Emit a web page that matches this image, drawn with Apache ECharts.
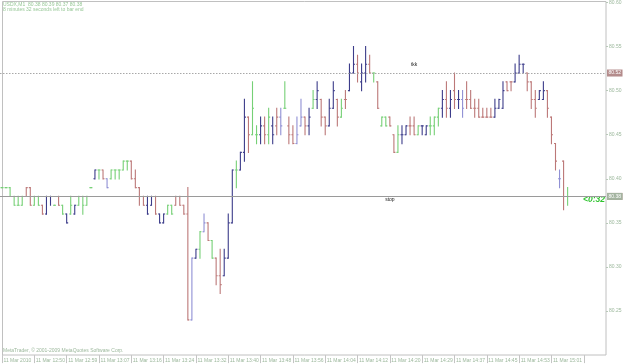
<!DOCTYPE html>
<html><head><meta charset="utf-8">
<script src="https://cdn.jsdelivr.net/npm/echarts@6/dist/echarts.min.js"></script>
<style>html,body{margin:0;padding:0;background:#fff}#c{width:625px;height:364px}</style>
</head><body><div id="c"></div>
<script>
// x-axis tick labels, one every 8 bars
const tickLabels = ["11 Mar 2010","11 Mar 12:50","11 Mar 12:59","11 Mar 13:07","11 Mar 13:16","11 Mar 13:24","11 Mar 13:32","11 Mar 13:40","11 Mar 13:48","11 Mar 13:56","11 Mar 14:04","11 Mar 14:12","11 Mar 14:20","11 Mar 14:29","11 Mar 14:37","11 Mar 14:45","11 Mar 14:53","11 Mar 15:01"];
const priceTicks = [80.25, 80.30, 80.35, 80.40, 80.45, 80.50, 80.55, 80.60];

const opens = [
80.39,80.39,80.39,80.38,80.37,80.37,80.38,80.39,80.37,80.38,
80.37,80.36,80.38,80.37,80.38,80.37,80.36,80.36,80.36,80.37,
80.38,80.37,80.39,80.40,80.41,80.41,80.40,80.40,80.41,80.41,
80.41,80.42,80.42,80.40,80.39,80.38,80.37,80.37,80.38,80.36,
80.35,80.36,80.37,80.37,80.38,80.37,80.36,80.24,80.31,80.32,
80.34,80.35,80.33,80.31,80.29,80.29,80.31,80.35,80.41,80.41,
80.43,80.47,80.45,80.45,80.45,80.46,80.45,80.46,80.46,80.47,
80.48,80.46,80.45,80.44,80.46,80.47,80.46,80.48,80.49,80.49,
80.47,80.46,80.48,80.49,80.47,80.49,80.50,80.52,80.53,80.51,
80.52,80.53,80.52,80.51,80.46,80.47,80.47,80.45,80.43,80.45,
80.45,80.46,80.46,80.45,80.46,80.45,80.46,80.46,80.47,80.48,
80.49,80.48,80.50,80.49,80.49,80.49,80.49,80.48,80.48,80.47,
80.47,80.47,80.47,80.48,80.48,80.51,80.51,80.51,80.52,80.53,
80.52,80.51,80.49,80.49,80.49,80.50,80.47,80.44,80.40,80.42,80.38];
const highs = [
80.39,80.39,80.39,80.38,80.38,80.38,80.39,80.39,80.38,80.38,
80.37,80.38,80.38,80.37,80.38,80.37,80.36,80.38,80.37,80.38,
80.38,80.38,80.39,80.41,80.41,80.41,80.40,80.41,80.41,80.41,
80.42,80.42,80.42,80.41,80.39,80.38,80.38,80.38,80.38,80.36,
80.36,80.37,80.37,80.38,80.38,80.37,80.39,80.31,80.32,80.34,
80.36,80.35,80.33,80.31,80.32,80.32,80.36,80.41,80.42,80.43,
80.49,80.47,80.51,80.46,80.47,80.47,80.48,80.47,80.48,80.48,
80.51,80.47,80.46,80.47,80.49,80.47,80.48,80.50,80.51,80.49,
80.47,80.49,80.51,80.49,80.49,80.50,80.53,80.55,80.54,80.53,
80.55,80.54,80.52,80.51,80.47,80.47,80.47,80.45,80.46,80.46,
80.46,80.47,80.47,80.46,80.46,80.46,80.47,80.47,80.48,80.50,
80.51,80.50,80.52,80.50,80.50,80.51,80.50,80.49,80.49,80.48,
80.48,80.48,80.49,80.49,80.51,80.51,80.51,80.53,80.54,80.53,
80.52,80.51,80.50,80.50,80.51,80.50,80.47,80.44,80.41,80.42,80.39];
const lows = [
80.39,80.39,80.38,80.37,80.37,80.37,80.38,80.37,80.37,80.37,
80.36,80.36,80.37,80.37,80.37,80.36,80.35,80.36,80.36,80.37,
80.36,80.37,80.39,80.40,80.40,80.40,80.39,80.40,80.40,80.40,
80.41,80.41,80.40,80.39,80.37,80.37,80.36,80.37,80.36,80.35,
80.35,80.36,80.36,80.37,80.37,80.36,80.24,80.24,80.31,80.31,
80.34,80.33,80.31,80.28,80.27,80.29,80.31,80.35,80.39,80.41,
80.42,80.43,80.45,80.44,80.44,80.44,80.44,80.44,80.45,80.45,
80.48,80.44,80.44,80.44,80.46,80.45,80.45,80.48,80.48,80.46,
80.45,80.46,80.48,80.46,80.47,80.48,80.50,80.52,80.51,80.50,
80.51,80.52,80.51,80.48,80.46,80.46,80.46,80.43,80.43,80.44,
80.45,80.45,80.45,80.45,80.45,80.45,80.45,80.45,80.46,80.47,
80.47,80.47,80.48,80.48,80.47,80.48,80.48,80.47,80.47,80.47,
80.47,80.47,80.47,80.48,80.48,80.50,80.50,80.51,80.52,80.52,
80.50,80.48,80.47,80.49,80.49,80.47,80.44,80.41,80.39,80.365,80.37];
const closes = [
80.39,80.39,80.38,80.37,80.37,80.38,80.39,80.37,80.38,80.37,
80.36,80.38,80.38,80.37,80.37,80.36,80.35,80.37,80.37,80.38,
80.37,80.38,80.39,80.41,80.41,80.40,80.39,80.41,80.41,80.41,
80.42,80.42,80.40,80.39,80.38,80.37,80.36,80.38,80.36,80.35,
80.36,80.37,80.36,80.38,80.37,80.36,80.24,80.31,80.32,80.34,
80.35,80.33,80.31,80.29,80.28,80.31,80.35,80.41,80.41,80.43,
80.47,80.45,80.48,80.45,80.46,80.45,80.47,80.45,80.47,80.46,
80.48,80.45,80.44,80.45,80.47,80.46,80.47,80.49,80.50,80.47,
80.46,80.48,80.50,80.47,80.48,80.49,80.52,80.53,80.52,80.52,
80.53,80.52,80.52,80.48,80.47,80.46,80.46,80.43,80.45,80.45,
80.46,80.46,80.45,80.46,80.46,80.46,80.46,80.47,80.48,80.49,
80.48,80.49,80.49,80.49,80.48,80.49,80.48,80.48,80.47,80.47,
80.47,80.47,80.48,80.49,80.50,80.50,80.51,80.52,80.53,80.53,
80.51,80.49,80.48,80.50,80.50,80.48,80.45,80.42,80.40,80.38,80.38];
// bar colour classes: G green, R red, N navy, L lavender
const barColors = "GGGGGGRRGG"+"RNNGRGNGNG"+"GGGNGRLGGG"+"GGRRRRNNRN"+"NGGRRRRLNG"+"LRGRRNNNGN"+"NRGGNRGNRL"+"GRRLLRNGNR"+"RNNRGRNNRN"+"NRGRGGRRGN"+"NRRGNNGGGN"+"RNRNLRRRRR"+"RRNNNRRNNN"+"RRRNNRRRLRG";
const levelLines = [
  {value: 80.5228, text: "80.52", kind: "dot"},
  {value: 80.3847, text: "80.38", kind: "dot"},
  {value: 80.3800, text: "80.38", kind: "bid"}
];
const notes = [
  {slot: 101.5, price: 80.530, text: "tkk"},
  {slot: 96.3, price: 80.3767, text: "stop"}
];
const titleLine1 = "USDX,M1  80.38 80.39 80.37 80.38";
const titleLine2 = "8 minutes 32 seconds left to bar end";
const copyright = "MetaTrader, \u00a9 2001-2009 MetaQuotes Software Corp.";
const timer = "<0:32";

const SLOTS = 150;
const palette = {G: '#76d076', R: '#bc7878', N: '#3c3c8a', L: '#9090d4'};
const categories = [];
for (let i = 0; i < SLOTS; i++) categories.push(i);
const data = opens.map((o, i) => [i, o, highs[i], lows[i], closes[i]]);

const FONT = 'Liberation Sans';
const chart = echarts.init(document.getElementById('c'), null, {renderer: 'canvas'});
chart.setOption({
  animation: false,
  backgroundColor: '#ffffff',
  grid: {left: 0, right: 19, top: 1.8, bottom: 8.9, show: false},
  xAxis: {
    type: 'category', data: categories, boundaryGap: true,
    axisLine: {show: false},
    axisTick: {show: true, interval: 7, alignWithLabel: true, length: 8, lineStyle: {color: '#c4c4c4', width: 1}},
    axisLabel: {interval: 7, align: 'left', margin: 3.5, fontSize: 5, fontFamily: FONT, color: '#9cb89c', padding: [0,0,0,1.5],
      formatter: (v, idx) => tickLabels[idx / 8] || ''},
    splitLine: {show: false}
  },
  yAxis: {
    type: 'value', position: 'right', min: 80.20, max: 80.60, interval: 0.05,
    axisLine: {show: false},
    axisTick: {show: true, length: 2, lineStyle: {color: '#b8c8b8'}},
    axisLabel: {margin: 3, fontSize: 5, fontFamily: FONT, color: '#9cb89c', showMinLabel: false,
      formatter: v => priceTicks.some(t => Math.abs(t - v) < 1e-6) ? v.toFixed(2) : ''},
    splitLine: {show: false}
  },
  graphic: [
    {type: 'rect', z: 0, shape: {x: 2.5, y: 1.5, width: 603.5, height: 353.5}, style: {fill: 'none', stroke: '#c0c0c0', lineWidth: 1}},
    {type: 'text', left: 3, top: 2, style: {text: titleLine1, fontSize: 5, fontFamily: FONT, fill: '#98c898'}},
    {type: 'text', left: 3, top: 7, style: {text: titleLine2, fontSize: 5, fontFamily: FONT, fill: '#98c898'}},
    {type: 'text', left: 3, top: 348.5, style: {text: copyright, fontSize: 5, fontFamily: FONT, fill: '#9cb89c'}},
    {type: 'text', left: 583, top: 195, style: {text: timer, fontSize: 8.5, fontWeight: 'bold', fontStyle: 'italic', fontFamily: FONT, fill: '#2fc42f'}}
  ],
  series: [{
    type: 'custom',
    data: data,
    encode: {x: 0, y: [1, 2, 3, 4]},
    clip: true,
    renderItem: function (params, api) {
      const i = api.value(0);
      const o = api.coord([i, api.value(1)]);
      const h = api.coord([i, api.value(2)]);
      const l = api.coord([i, api.value(3)]);
      const c = api.coord([i, api.value(4)]);
      const x = h[0];
      const t = 1.5;
      const st = {stroke: palette[barColors[params.dataIndex]], lineWidth: 1.1};
      return {type: 'group', children: [
        {type: 'line', shape: {x1: x, y1: h[1] - 0.6, x2: x, y2: l[1] + 0.6}, style: st},
        {type: 'line', shape: {x1: x - t, y1: o[1], x2: x, y2: o[1]}, style: st},
        {type: 'line', shape: {x1: x, y1: c[1], x2: x + t, y2: c[1]}, style: st}
      ]};
    },
    markLine: {
      silent: true, symbol: ['none', 'none'], animation: false,
      data: levelLines.map(d => ({
        yAxis: d.value,
        lineStyle: d.kind === 'dot' ? {color: '#a8a8a8', type: [1.5, 1.5], width: 1} : {color: '#9a9a9a', type: 'solid', width: 1},
        label: {show: true, position: 'end', distance: 1, formatter: d.text, fontSize: 5, fontFamily: FONT,
          color: '#ffffff', backgroundColor: d.kind === 'dot' ? '#b48c8c' : '#a4b4a0', padding: [1, 1.5]}
      }))
    },
    markPoint: {
      silent: true, symbol: 'circle', symbolSize: 0, animation: false,
      data: notes.map(n => ({coord: [n.slot, n.price], label: {show: true, position: 'inside', formatter: n.text, fontSize: 5, fontFamily: FONT, color: '#222'}}))
    }
  }]
});
</script>
</body></html>
